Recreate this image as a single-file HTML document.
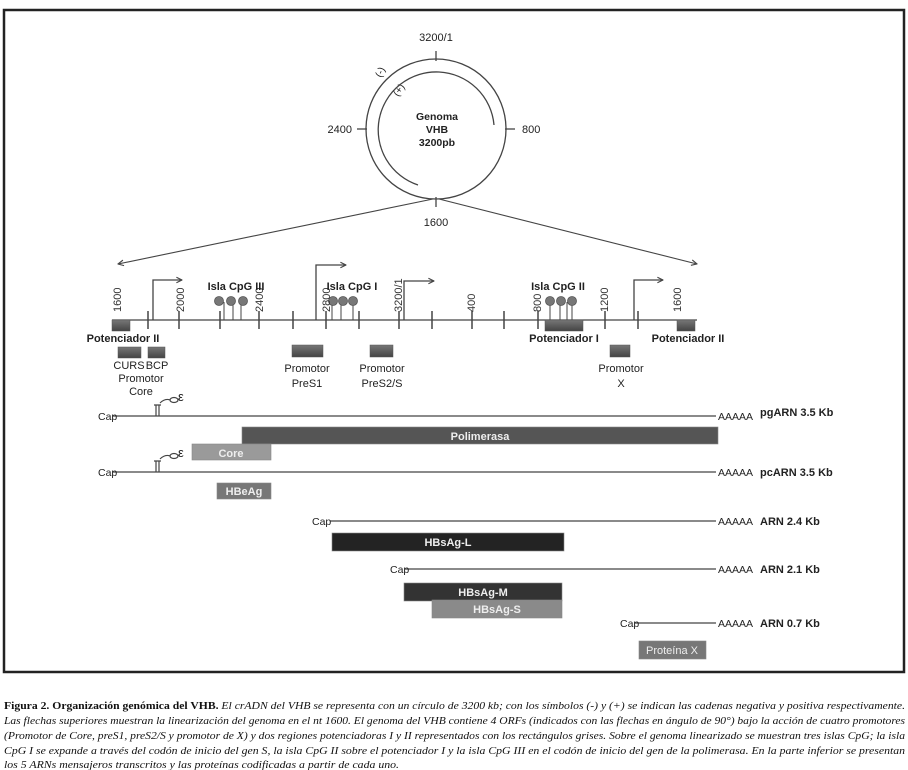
<!DOCTYPE html>
<html><head><meta charset="utf-8"><style>
html,body{margin:0;padding:0;background:#fff;width:908px;height:770px;overflow:hidden}
svg{display:block}
.s{font-family:"Liberation Sans","DejaVu Sans",sans-serif}
</style></head><body>
<svg width="908" height="770" viewBox="0 0 908 770" xmlns="http://www.w3.org/2000/svg">
<defs>
<marker id="ah" viewBox="0 0 10 10" refX="9" refY="5" markerWidth="7" markerHeight="7" orient="auto-start-reverse" markerUnits="userSpaceOnUse"><path d="M1,1 L9,5 L1,9" fill="none" stroke="#444" stroke-width="1.6"/></marker>
<linearGradient id="gd" x1="0" y1="0" x2="0" y2="1"><stop offset="0" stop-color="#777"/><stop offset="1" stop-color="#444"/></linearGradient>
</defs>
<rect x="4" y="10" width="900" height="662" fill="none" stroke="#222" stroke-width="2.5"/>

<!-- circle -->
<g stroke="#444" fill="none" stroke-width="1.3">
<circle cx="436" cy="129" r="70"/>
<path d="M418,185 A58,58 0 1 1 494,125"/>
<line x1="436" y1="51" x2="436" y2="61"/><line x1="436" y1="197" x2="436" y2="207"/>
<line x1="357" y1="129" x2="367" y2="129"/><line x1="505" y1="129" x2="515" y2="129"/>
<line x1="433" y1="199" x2="118" y2="264" marker-end="url(#ah)" stroke-width="1.1"/>
<line x1="439" y1="199" x2="697" y2="264" marker-end="url(#ah)" stroke-width="1.1"/>
</g>
<g class="s" font-size="11" fill="#222">
<text x="436" y="41" text-anchor="middle">3200/1</text>
<text x="436" y="226" text-anchor="middle">1600</text>
<text x="352" y="133" text-anchor="end">2400</text>
<text x="522" y="133">800</text>
<text x="381" y="78" transform="rotate(-65 381 78)" font-size="10">(-)</text>
<text x="398" y="97" transform="rotate(-55 398 97)" font-size="10">(+)</text>
<g font-weight="bold" font-size="10.5" text-anchor="middle"><text x="437" y="120">Genoma</text><text x="437" y="133">VHB</text><text x="437" y="146">3200pb</text></g>
</g>

<!-- linear axis -->
<g stroke="#444" stroke-width="1.3" fill="none">
<line x1="112" y1="320" x2="697" y2="320"/>
<g stroke-width="1.5">
<line x1="148" y1="311" x2="148" y2="329"/><line x1="179" y1="311" x2="179" y2="329"/><line x1="220" y1="311" x2="220" y2="329"/><line x1="259" y1="311" x2="259" y2="329"/><line x1="293" y1="311" x2="293" y2="329"/><line x1="326" y1="311" x2="326" y2="329"/><line x1="359" y1="311" x2="359" y2="329"/><line x1="399" y1="311" x2="399" y2="329"/><line x1="432" y1="311" x2="432" y2="329"/><line x1="472" y1="311" x2="472" y2="329"/><line x1="504" y1="311" x2="504" y2="329"/><line x1="538" y1="311" x2="538" y2="329"/><line x1="605" y1="311" x2="605" y2="329"/><line x1="638" y1="311" x2="638" y2="329"/>
</g>
<path d="M153,320 V280 H182" marker-end="url(#ah)"/>
<path d="M316,320 V265 H346" marker-end="url(#ah)"/>
<path d="M404,320 V281 H434" marker-end="url(#ah)"/>
<path d="M634,320 V280 H663" marker-end="url(#ah)"/>
<g stroke-width="1">
<line x1="224" y1="302" x2="224" y2="320"/><line x1="233" y1="302" x2="233" y2="320"/><line x1="241" y1="302" x2="241" y2="320"/>
<line x1="332" y1="302" x2="332" y2="320"/><line x1="341" y1="302" x2="341" y2="320"/><line x1="353" y1="302" x2="353" y2="320"/>
<line x1="550" y1="302" x2="550" y2="320"/><line x1="560" y1="302" x2="560" y2="320"/><line x1="567" y1="302" x2="567" y2="320"/><line x1="572" y1="302" x2="572" y2="320"/>
</g>
</g>
<g fill="#777" stroke="#555" stroke-width="0.8">
<circle cx="219" cy="301" r="4.5"/><circle cx="231" cy="301" r="4.5"/><circle cx="243" cy="301" r="4.5"/>
<circle cx="333" cy="301" r="4.5"/><circle cx="343" cy="301" r="4.5"/><circle cx="353" cy="301" r="4.5"/>
<circle cx="550" cy="301" r="4.5"/><circle cx="561" cy="301" r="4.5"/><circle cx="572" cy="301" r="4.5"/>
</g>
<g class="s" font-size="11" fill="#333">
<text transform="translate(121,312) rotate(-90)">1600</text>
<text transform="translate(184,312) rotate(-90)">2000</text>
<text transform="translate(263,312) rotate(-90)">2400</text>
<text transform="translate(330,312) rotate(-90)">2800</text>
<text transform="translate(402,312) rotate(-90)">3200/1</text>
<text transform="translate(475,312) rotate(-90)">400</text>
<text transform="translate(541,312) rotate(-90)">800</text>
<text transform="translate(608,312) rotate(-90)">1200</text>
<text transform="translate(681,312) rotate(-90)">1600</text>
</g>
<g fill="url(#gd)" stroke="#555" stroke-width="0.5">
<rect x="112" y="320" width="18" height="11"/>
<rect x="118" y="347" width="23" height="11"/><rect x="148" y="347" width="17" height="11"/>
<rect x="292" y="345" width="31" height="12"/><rect x="370" y="345" width="23" height="12"/>
<rect x="545" y="320" width="38" height="11"/><rect x="677" y="320" width="18" height="11"/>
<rect x="610" y="345" width="20" height="12"/>
</g>
<g class="s" font-size="11" fill="#222" text-anchor="middle">
<g font-weight="bold"><text x="236" y="290">Isla CpG III</text><text x="352" y="290">Isla CpG I</text><text x="558" y="290">Isla CpG II</text>
<text x="123" y="342">Potenciador II</text><text x="564" y="342">Potenciador I</text><text x="688" y="342">Potenciador II</text></g>
<text x="129" y="369">CURS</text><text x="157" y="369">BCP</text><text x="141" y="382">Promotor</text><text x="141" y="395">Core</text>
<text x="307" y="372">Promotor</text><text x="307" y="387">PreS1</text>
<text x="382" y="372">Promotor</text><text x="382" y="387">PreS2/S</text>
<text x="621" y="372">Promotor</text><text x="621" y="387">X</text>
</g>

<!-- RNAs -->
<g stroke="#444" stroke-width="1.2" fill="none">
<line x1="113" y1="416" x2="716" y2="416"/>
<line x1="113" y1="472" x2="716" y2="472"/>
<line x1="330" y1="521" x2="716" y2="521"/>
<line x1="405" y1="569" x2="716" y2="569"/>
<line x1="635" y1="623" x2="716" y2="623"/>
<path d="M156,416 V405 M159,416 V405 M154,405 H161 M160,403 Q165,398 170,400"/>
<ellipse cx="174" cy="400" rx="4" ry="2.5"/>
<path d="M156,472 V461 M159,472 V461 M154,461 H161 M160,459 Q165,454 170,456"/>
<ellipse cx="174" cy="456" rx="4" ry="2.5"/>
</g>
<g class="s" font-size="10.5" fill="#222">
<text x="98" y="420">Cap</text><text x="98" y="476">Cap</text><text x="312" y="525">Cap</text><text x="390" y="573">Cap</text><text x="620" y="627">Cap</text>
<text x="178" y="401" font-size="13">ε</text><text x="178" y="457" font-size="13">ε</text>
<text x="718" y="420">AAAAA</text><text x="718" y="476">AAAAA</text><text x="718" y="525">AAAAA</text><text x="718" y="573">AAAAA</text><text x="718" y="627">AAAAA</text>
<g font-weight="bold" font-size="11"><text x="760" y="416">pgARN 3.5 Kb</text><text x="760" y="476">pcARN 3.5 Kb</text><text x="760" y="525">ARN 2.4 Kb</text><text x="760" y="573">ARN 2.1 Kb</text><text x="760" y="627">ARN 0.7 Kb</text></g>
</g>
<g stroke="#888" stroke-width="0.6">
<rect x="242" y="427" width="476" height="17" fill="#555"/>
<rect x="192" y="444" width="79" height="16" fill="#9a9a9a"/>
<rect x="217" y="483" width="54" height="16" fill="#777"/>
<rect x="332" y="533" width="232" height="18" fill="#232323"/>
<rect x="404" y="583" width="158" height="18" fill="#333"/>
<rect x="432" y="600" width="130" height="18" fill="#8a8a8a"/>
<rect x="639" y="641" width="67" height="18" fill="#777"/>
</g>
<g class="s" font-size="11" font-weight="bold" fill="#eee" text-anchor="middle">
<text x="480" y="440">Polimerasa</text><text x="231" y="457">Core</text><text x="244" y="495">HBeAg</text>
<text x="448" y="546">HBsAg-L</text><text x="483" y="596">HBsAg-M</text><text x="497" y="613">HBsAg-S</text><text x="672" y="654" font-weight="normal">Proteína X</text>
</g>

<!-- caption -->
<g font-family="'Liberation Serif','DejaVu Serif',serif" font-size="11" fill="#111" font-style="italic">
<text x="4" y="709" textLength="901" lengthAdjust="spacingAndGlyphs"><tspan font-weight="bold" font-style="normal">Figura 2. Organización genómica del VHB.</tspan> El crADN del VHB se representa con un círculo de 3200 kb; con los símbolos (-) y (+) se indican las cadenas negativa y positiva respectivamente.</text>
<text x="4" y="724" textLength="901" lengthAdjust="spacingAndGlyphs">Las flechas superiores muestran la linearización del genoma en el nt 1600. El genoma del VHB contiene 4 ORFs (indicados con las flechas en ángulo de 90°) bajo la acción de cuatro promotores</text>
<text x="4" y="739" textLength="901" lengthAdjust="spacingAndGlyphs">(Promotor de Core, preS1, preS2/S y promotor de X) y dos regiones potenciadoras I y II representados con los rectángulos grises. Sobre el genoma linearizado se muestran tres islas CpG; la isla</text>
<text x="4" y="754" textLength="901" lengthAdjust="spacingAndGlyphs">CpG I se expande a través del codón de inicio del gen S, la isla CpG II sobre el potenciador I y la isla CpG III en el codón de inicio del gen de la polimerasa. En la parte inferior se presentan</text>
<text x="4" y="768" textLength="395" lengthAdjust="spacingAndGlyphs">los 5 ARNs mensajeros transcritos y las proteínas codificadas a partir de cada uno.</text>
</g>
</svg>
</body></html>
